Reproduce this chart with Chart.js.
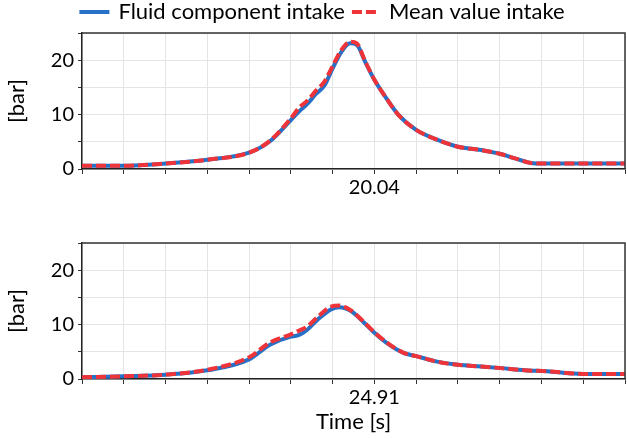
<!DOCTYPE html>
<html lang="en">
<head>
<meta charset="UTF-8">
<title>Intake pressure</title>
<script src="https://cdn.jsdelivr.net/npm/chart.js"></script>
<style>
    body {
        margin: 0;
        background: #fff;
    }
    .box {
        position: absolute;
        left: 0;
        width: 627px;
    }
</style>
</head>
<body>
<div class="box" style="top:0;height:220px"><canvas id="topChart"></canvas></div>
<div class="box" style="top:220px;height:219px"><canvas id="bottomChart"></canvas></div>

<script>
// x positions are in grid units (13 grid intervals across the plot)
const topX = [0, 1, 2, 3, 4, 4.5, 5, 5.2, 5.4, 5.6, 5.8, 6.0, 6.2, 6.42, 6.58, 6.78, 7.0, 7.26, 7.57, 8.0, 8.5, 9.0, 9.55, 10.0, 10.35, 10.75, 11, 12, 13];
const topFluid = [0.6, 0.6, 1.0, 1.7, 3.0, 5.1, 9.0, 10.6, 12.0, 13.8, 15.3, 18.5, 21.4, 23.1, 22.8, 19.7, 16.4, 13.3, 10.0, 7.2, 5.4, 4.1, 3.5, 2.8, 2.0, 1.1, 1.0, 1.0, 1.0];
const topMean = [0.6, 0.6, 1.0, 1.7, 3.0, 5.2, 9.3, 11.3, 12.6, 14.4, 16.0, 18.9, 21.8, 23.4, 23.1, 19.8, 16.4, 13.3, 10.0, 7.2, 5.4, 4.1, 3.5, 2.8, 2.0, 1.1, 1.0, 1.0, 1.0];

const bottomX = [0, 1, 2, 3, 4, 4.5, 5, 5.17, 5.4, 5.64, 5.96, 6.16, 6.44, 6.76, 7.0, 7.3, 7.7, 8.0, 8.5, 9.0, 9.55, 10.03, 10.6, 11.2, 11.77, 12.2, 13];
const bottomFluid = [0.3, 0.5, 0.8, 1.6, 3.6, 6.3, 7.8, 8.0, 9.1, 10.9, 12.8, 13.2, 12.5, 10.3, 8.5, 6.6, 4.8, 4.2, 3.2, 2.6, 2.3, 2.0, 1.6, 1.4, 1.0, 0.9, 0.9];
const bottomMean = [0.3, 0.5, 0.8, 1.7, 4.0, 6.7, 8.2, 8.8, 9.7, 11.4, 13.3, 13.5, 12.6, 10.4, 8.6, 6.7, 4.8, 4.2, 3.2, 2.6, 2.3, 2.0, 1.6, 1.4, 1.0, 0.9, 0.9];

const topTickLabel = "20.04";
const bottomTickLabel = "24.91";
const labelTick = 7;
const yLabels = [0, 10, 20];

Chart.defaults.font.family = "Lato, 'Open Sans', sans-serif";
Chart.defaults.font.size = 20;
Chart.defaults.color = "#000";

// draws the top and right edges of the plot frame
const frame = {
    id: "frame",
    afterDraw(chart) {
        const a = chart.chartArea;
        const ctx = chart.ctx;
        ctx.save();
        ctx.strokeStyle = "#333";
        ctx.lineWidth = 1.5;
        ctx.beginPath();
        ctx.moveTo(a.left, a.top);
        ctx.lineTo(a.right, a.top);
        ctx.lineTo(a.right, a.bottom);
        ctx.stroke();
        ctx.restore();
    }
};

// nudge the legend a little right, as in the original
const legendShift = {
    id: "legendShift",
    afterLayout(chart) {
        if (chart.legend && chart.options.plugins.legend.display) {
            chart.legend.left += 10;
            chart.legend.right += 10;
        }
    }
};

function points(xs, ys) {
    return xs.map((x, i) => ({ x: x, y: ys[i] }));
}

function makeChart(id, xs, fluid, mean, tickLabel, showLegend, xHeight, padTop, showTitle) {
    return new Chart(document.getElementById(id), {
        type: "line",
        data: {
            datasets: [
                {
                    label: "Fluid component intake",
                    data: points(xs, fluid),
                    borderColor: "#2670c8",
                    backgroundColor: "#2670c8",
                    borderWidth: 4,
                    pointRadius: 0,
                    cubicInterpolationMode: "monotone",
                    order: 1
                },
                {
                    label: "Mean value intake",
                    data: points(xs, mean),
                    borderColor: "#ee3438",
                    backgroundColor: "rgba(0,0,0,0)",
                    borderWidth: 4,
                    borderDash: [10, 4],
                    pointRadius: 0,
                    cubicInterpolationMode: "monotone",
                    order: 0
                }
            ]
        },
        options: {
            responsive: true,
            maintainAspectRatio: false,
            animation: false,
            layout: { padding: { top: padTop, right: 1, left: 0, bottom: 0 } },
            plugins: {
                legend: {
                    display: showLegend,
                    labels: {
                        boxWidth: 26,
                        boxHeight: 0.01,
                        padding: 7,
                        font: { size: 22 },
                        sort: (a, b) => a.datasetIndex - b.datasetIndex
                    }
                },
                tooltip: { enabled: false }
            },
            scales: {
                x: {
                    type: "linear",
                    min: 0,
                    max: 13,
                    afterFit: s => { s.height = xHeight; },
                    ticks: {
                        stepSize: 1,
                        autoSkip: false,
                        maxRotation: 0,
                        padding: 2,
                        callback: v => v === labelTick ? tickLabel : ""
                    },
                    grid: { color: "#e4e4e4", tickColor: "#333", tickLength: 5 },
                    border: { color: "#222", width: 1.5 },
                    title: { display: showTitle, text: "Time [s]", font: { size: 22 }, padding: { top: 0 } }
                },
                y: {
                    min: 0,
                    max: 25,
                    afterFit: s => { s.width = 82; },
                    ticks: {
                        stepSize: 5,
                        padding: 4,
                        callback: v => yLabels.includes(v) ? v : ""
                    },
                    grid: { color: "#e4e4e4", tickColor: "#333", tickLength: 4 },
                    border: { color: "#222", width: 1.5 },
                    title: { display: true, text: "[bar]", font: { size: 22 }, padding: { bottom: 4 } }
                }
            }
        },
        plugins: [frame, legendShift]
    });
}

makeChart("topChart", topX, topFluid, topMean, topTickLabel, true, 51, -6, false);
makeChart("bottomChart", bottomX, bottomFluid, bottomMean, bottomTickLabel, false, 60, 23, true);
</script>
</body>
</html>
